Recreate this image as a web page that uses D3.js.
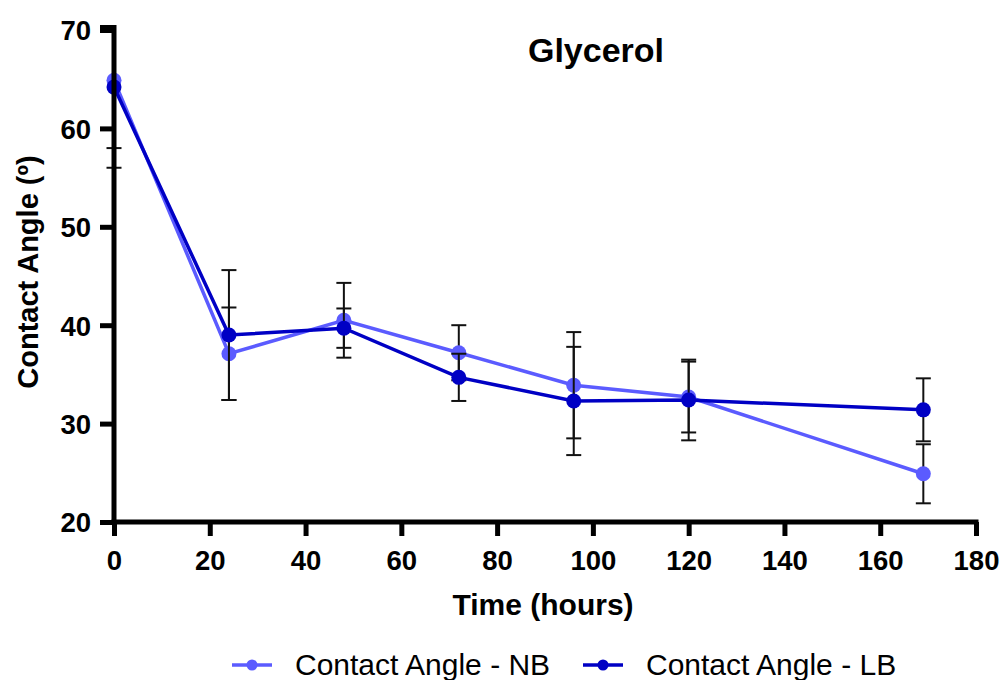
<!DOCTYPE html>
<html>
<head>
<meta charset="utf-8">
<script src="https://cdn.jsdelivr.net/npm/d3@7"></script>
<style>
  body { margin: 0; background: #fff; }
  text { font-family: "Liberation Sans", Arial, sans-serif; }
</style>
</head>
<body>
<script>
"use strict";

// data
var hours = [0, 24, 48, 72, 96, 120, 169];
var nbMean = [64.9, 37.1, 40.5, 37.2, 33.9, 32.7, 24.9];
var nbSd   = [6.9, 4.7, 3.8, 2.8, 5.4, 3.6, 3.0];
var lbMean = [64.2, 39.0, 39.7, 34.7, 32.3, 32.4, 31.4];
var lbSd   = [8.2, 6.6, 2.0, 2.4, 5.5, 4.1, 3.2];
var xTicks = [0, 20, 40, 60, 80, 100, 120, 140, 160, 180];
var yTicks = [20, 30, 40, 50, 60, 70];
var seriesNames = ["Contact Angle - NB", "Contact Angle - LB"];
var seriesColors = ["#5b5bff", "#0000c4"];

var width = 1003;
var height = 680;

var x = d3.scaleLinear().domain([0, 180]).range([114, 976]);
var y = d3.scaleLinear().domain([20, 70]).range([522, 30]);

var svg = d3.select("body").append("svg")
    .attr("width", width)
    .attr("height", height);

svg.append("defs").append("clipPath").attr("id", "plot")
  .append("rect")
    .attr("x", 100).attr("y", y(70)).attr("width", 900).attr("height", y(20) - y(70));

var series = [
  { name: seriesNames[0], color: seriesColors[0], mean: nbMean, sd: nbSd },
  { name: seriesNames[1], color: seriesColors[1], mean: lbMean, sd: lbSd }
];

var plot = svg.append("g").attr("clip-path", "url(#plot)");

var line = d3.line()
    .x(function(d) { return x(d.t); })
    .y(function(d) { return y(d.v); });

series.forEach(function(s) {
  var pts = hours.map(function(t, i) { return { t: t, v: s.mean[i], sd: s.sd[i] }; });
  var g = plot.append("g");

  // error bars
  var eb = g.append("g").attr("stroke", "#111").attr("stroke-width", 2).attr("fill", "none");
  pts.forEach(function(p) {
    var cx = x(p.t);
    eb.append("line").attr("x1", cx).attr("x2", cx).attr("y1", y(p.v + p.sd)).attr("y2", y(p.v - p.sd));
    eb.append("line").attr("x1", cx - 7.5).attr("x2", cx + 7.5).attr("y1", y(p.v + p.sd)).attr("y2", y(p.v + p.sd));
    eb.append("line").attr("x1", cx - 7.5).attr("x2", cx + 7.5).attr("y1", y(p.v - p.sd)).attr("y2", y(p.v - p.sd));
  });

  g.append("path")
    .datum(pts)
    .attr("d", line)
    .attr("fill", "none")
    .attr("stroke", s.color)
    .attr("stroke-width", 3.5);

  g.selectAll("circle")
    .data(pts)
    .enter().append("circle")
      .attr("cx", function(d) { return x(d.t); })
      .attr("cy", function(d) { return y(d.v); })
      .attr("r", 7.5)
      .attr("fill", s.color);
});

// axes
var xAxis = svg.append("g")
    .attr("transform", "translate(0," + y(20) + ")")
    .call(d3.axisBottom(x).tickValues(xTicks).tickSize(14).tickPadding(14).tickFormat(d3.format("d")));
var yAxis = svg.append("g")
    .attr("transform", "translate(" + x(0) + ",0)")
    .call(d3.axisLeft(y).tickValues(yTicks).tickSize(14).tickPadding(9).tickFormat(d3.format("d")));

[xAxis, yAxis].forEach(function(a) {
  a.select(".domain").attr("stroke", "#000").attr("stroke-width", 5);
  a.selectAll(".tick line").attr("stroke", "#000").attr("stroke-width", 5);
  a.selectAll(".tick text")
    .attr("fill", "#000")
    .style("font-size", "27.5px")
    .style("font-weight", "bold");
});
xAxis.select(".domain").attr("d", "M" + (x(0) - 2.5) + ",0H" + (x(180) + 2.5));
yAxis.select(".domain").attr("d", "M0," + (y(20) + 2.5) + "V" + (y(70) - 2.5) + "H-14");
yAxis.selectAll(".tick text").attr("dy", "0.36em");

// titles
svg.append("text")
    .attr("x", 596).attr("y", 62)
    .attr("text-anchor", "middle")
    .style("font-size", "34px").style("font-weight", "bold")
    .text("Glycerol");

svg.append("text")
    .attr("x", 543).attr("y", 615)
    .attr("text-anchor", "middle")
    .style("font-size", "30px").style("font-weight", "bold")
    .text("Time (hours)");

svg.append("text")
    .attr("transform", "translate(38,272) rotate(-90)")
    .attr("text-anchor", "middle")
    .style("font-size", "29px").style("font-weight", "bold")
    .text("Contact Angle (º)");

// legend
var legendX = [232, 583];
series.forEach(function(s, i) {
  var lg = svg.append("g").attr("transform", "translate(" + legendX[i] + ",665)");
  lg.append("line").attr("x1", 0).attr("x2", 40).attr("y1", 0).attr("y2", 0)
    .attr("stroke", s.color).attr("stroke-width", 3.5);
  lg.append("circle").attr("cx", 20).attr("cy", 0).attr("r", 5.5).attr("fill", s.color);
  lg.append("text")
    .attr("x", 63).attr("y", 10)
    .style("font-size", "30px")
    .text(s.name);
});
</script>
</body>
</html>
